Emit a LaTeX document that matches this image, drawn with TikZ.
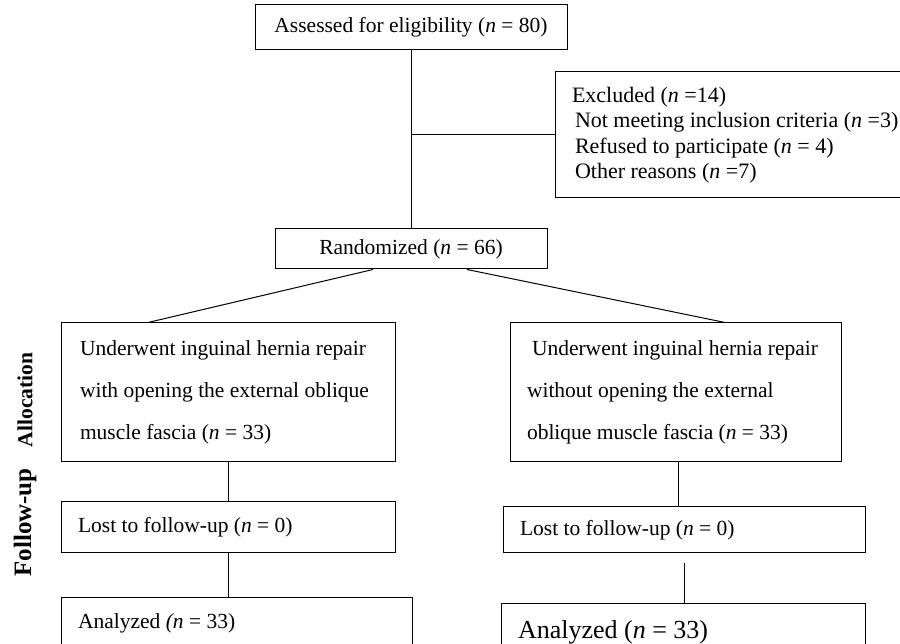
\documentclass[tikz,border=0pt]{standalone}
\usepackage{fontspec}
\setmainfont{Liberation Serif}
\usetikzlibrary{positioning,calc}

\begin{document}
\begin{tikzpicture}[
    x=1pt, y=1pt,
    line width=1pt,
    every node/.style={font=\fontsize{21.5}{25.5}\selectfont},
    cbox/.style={draw, line width=1pt, inner sep=0pt, align=center},
    lbox/.style={draw, line width=1pt, inner ysep=0pt, inner xsep=17pt, align=flush left,
        execute at begin node={\spaceskip=0pt \xspaceskip=0pt}},
    armbox/.style={lbox, minimum height=139pt, font=\fontsize{21.5}{42}\selectfont},
    side/.style={rotate=90, font=\bfseries\fontsize{21.5}{25}\selectfont}
]
\useasboundingbox (0,0) rectangle (900,644);
\clip (0,0) rectangle (900,644);

\node[cbox, minimum width=312pt, minimum height=45pt] (assess) at (411,616.5) {Assessed for eligibility (\textit{n} = 80)};
\node[lbox, text width=332pt, minimum height=126pt, font=\fontsize{22}{25.5}\selectfont] (excl) at (738,509) {Excluded (\textit{n} =14)\\
\hspace*{3pt}Not meeting inclusion criteria (\textit{n} =3)\\
\hspace*{3pt}Refused to participate (\textit{n} = 4)\\
\hspace*{3pt}Other reasons (\textit{n} =7)};
\node[cbox, minimum width=272pt, minimum height=40pt] (rand) at (411,395) {Randomized (\textit{n} = 66)};

\node[armbox, inner xsep=19pt, text width=296pt] (armA) at (228,251.5) {Underwent inguinal hernia repair\\
with opening the external oblique\\
muscle fascia (\textit{n} = 33)};
\node[armbox, text width=297pt] (armB) at (675.5,251.5) {\hspace*{5pt}Underwent inguinal hernia repair\\
without opening the external\\
oblique muscle fascia (\textit{n} = 33)};

\node[lbox, text width=300pt, minimum height=51pt] (lostA) at (228,116.5) {Lost to follow-up (\textit{n} = 0)};
\node[lbox, text width=328pt, minimum height=46pt] (lostB) at (684,114) {Lost to follow-up (\textit{n} = 0)};

\node[lbox, text width=317pt, minimum height=50pt] (anaA) at (236.5,21) {Analyzed \textit{(n} = 33)};
\node[lbox, text width=330pt, minimum height=56pt, font=\fontsize{26}{30}\selectfont] (anaB) at (683,12) {Analyzed (\textit{n} = 33)};

\node[side] (alloc) at (25,244) {Allocation};
\node[side, font=\bfseries\fontsize{25}{30}\selectfont] (follow) at (25,121.5) {Follow-up};

\draw (assess) -- (rand);
\draw (assess.south |- excl.west) -- (excl.west);
\draw ([xshift=-38pt]rand.south) -- ([xshift=-80pt]armA.north);
\draw ([xshift=56pt]rand.south) -- ([xshift=49.5pt]armB.north);
\draw (armA) -- (lostA);
\draw (lostA.south) -- (lostA.south |- anaA.north);
\draw ([xshift=2.5pt]armB.south) -- ([xshift=2.5pt]armB.south |- lostB.north);
\draw ([yshift=-10pt]lostB.south) -- (lostB.south |- anaB.north);

\end{tikzpicture}
\end{document}
